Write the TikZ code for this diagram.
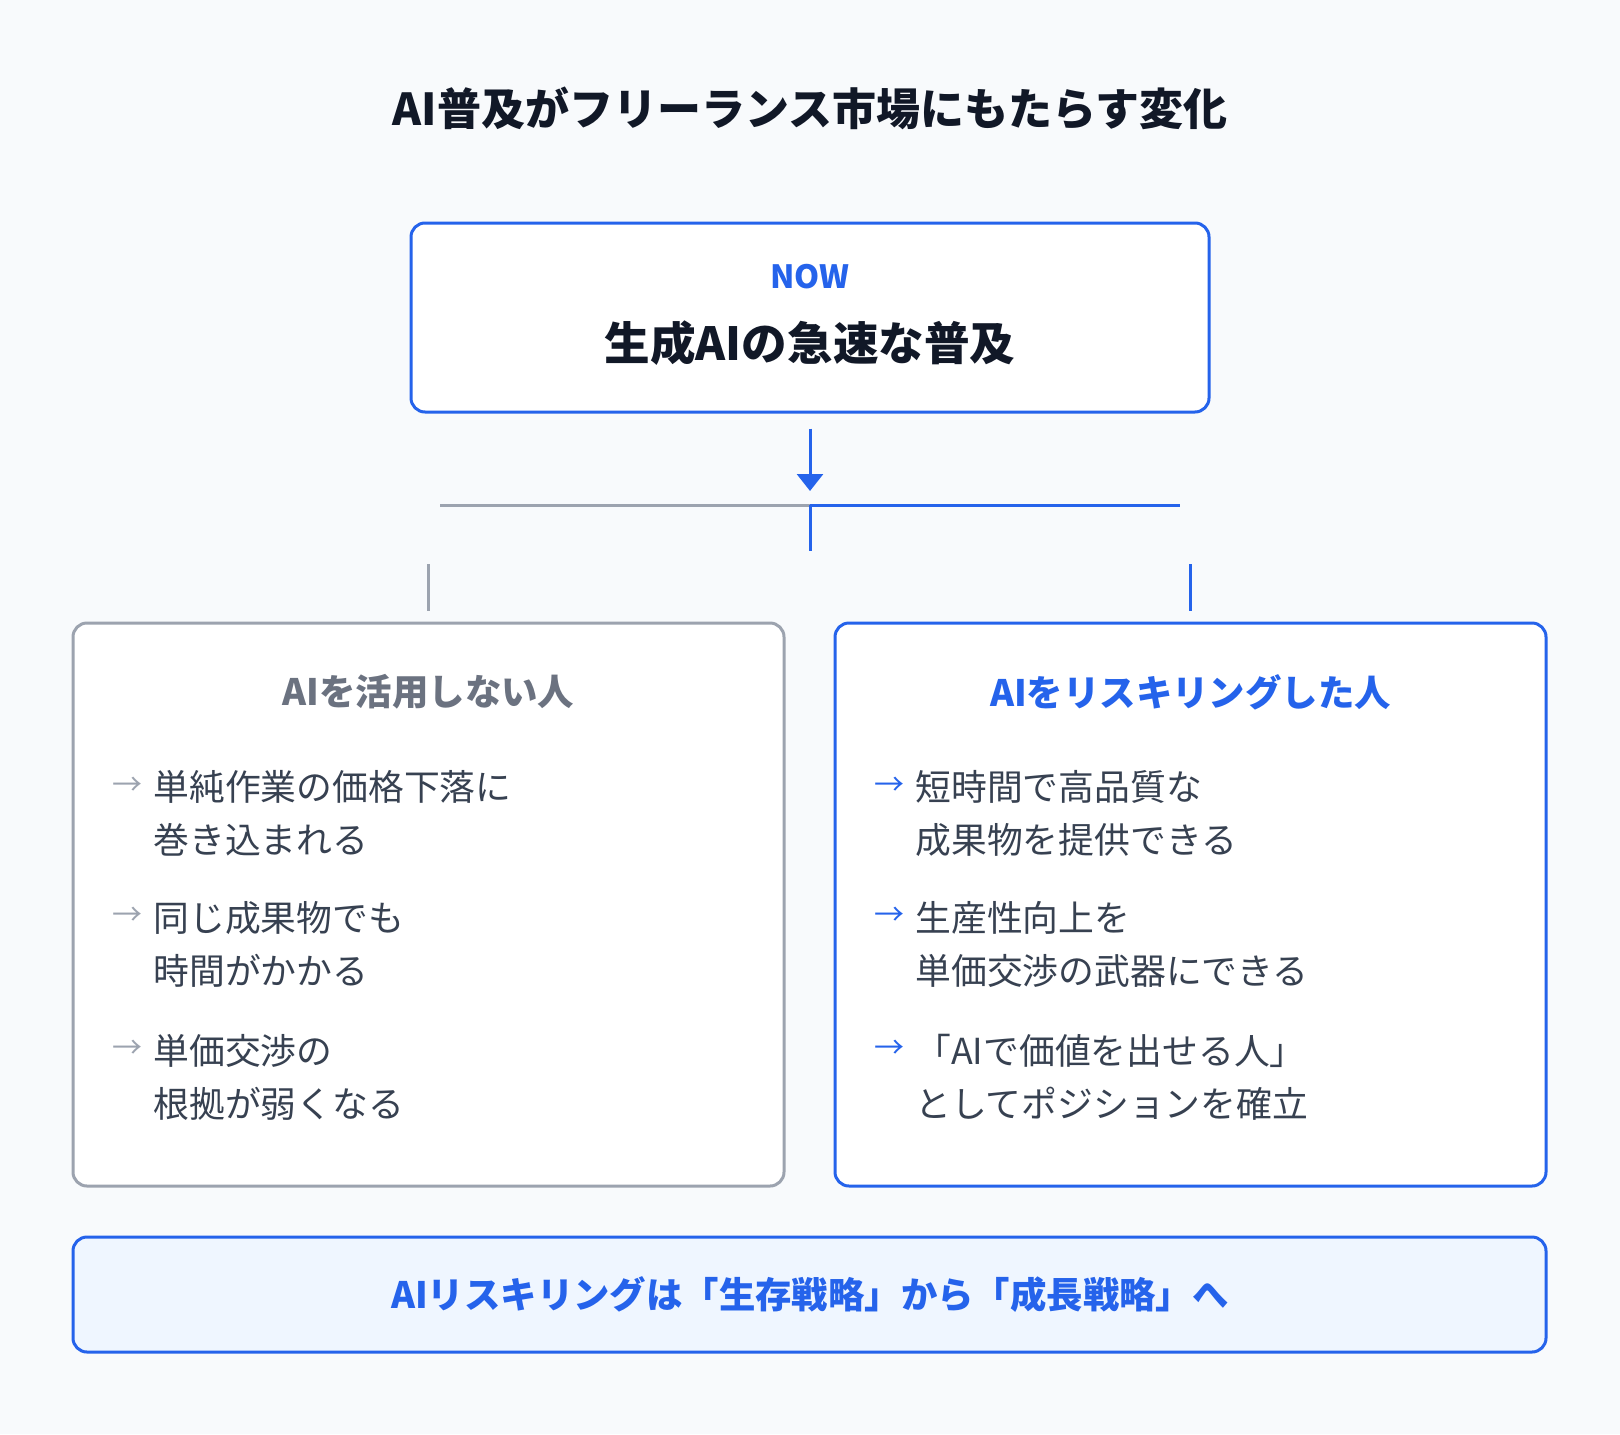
\documentclass[tikz,border=0pt]{standalone}
\usepackage{fontspec}
\setmainfont{Noto Sans CJK JP}
\usetikzlibrary{arrows.meta, positioning}
\definecolor{BrandBlue}{HTML}{2563EB}
\definecolor{MutedGray}{HTML}{9CA3AF}
\definecolor{HeadGray}{HTML}{6B7280}
\definecolor{BodyGray}{HTML}{374151}
\definecolor{InkDark}{HTML}{111827}
\definecolor{PageBg}{HTML}{F8FAFC}
\definecolor{TintBlue}{HTML}{EFF6FF}

\begin{document}
\begin{tikzpicture}[x=0.5pt, y=-0.5pt, >=Stealth,
    card/.style={draw, line width=1.5pt, rounded corners=7pt, fill=white, inner sep=0pt},
    headline/.style={font=\bfseries\fontsize{18.2}{22}\selectfont, inner sep=0pt},
    itemtext/.style={font=\fontsize{17.9}{26.5}\selectfont, text=BodyGray, align=left, anchor=west, inner sep=0pt},
    itemarrow/.style={font=\fontsize{15}{18}\selectfont, inner sep=0pt},
    link/.style={line width=1.5pt}]
  % Page background and bounds
  \fill[PageBg] (0,0) rectangle (1620,1434);
  \useasboundingbox (0,0) rectangle (1620,1434);

  % Title
  \node[font=\bfseries\fontsize{22}{26}\selectfont, text=InkDark] (title) at (810,108)
    {AI普及がフリーランス市場にもたらす変化};

  % Top box
  \node[card, draw=BrandBlue, minimum width=399pt, minimum height=94.5pt] (now) at (810,317.5) {};
  \node[font=\bfseries\fontsize{16}{19}\selectfont, text=BrandBlue, inner sep=0pt] (nowtag) at (810,277) {NOW};
  \node[font=\bfseries\fontsize{22.8}{27}\selectfont, text=InkDark, inner sep=0pt] (nowtext) at (810,343)
    {生成AIの急速な普及};

  % Branch
  \coordinate (split) at (810,505);
  \coordinate (splitL) at (440,505);
  \coordinate (splitR) at (1180,505);
  \coordinate (splitD) at (810,551);
  \draw[link, BrandBlue, -{Triangle[width=13pt, length=8.5pt]}, shorten <=7.5pt, shorten >=7pt]
    (now.south) -- (split);
  \draw[link, MutedGray] (splitL) -- (split);
  \draw[link, BrandBlue] (split) -- (splitR);
  \draw[link, BrandBlue] (split) -- (splitD);

  % Left and right boxes
  \node[card, draw=MutedGray, minimum width=355.5pt, minimum height=281.5pt] (left) at (428.5,904.5) {};
  \node[card, draw=BrandBlue, minimum width=355.5pt, minimum height=281.5pt] (right) at (1190.5,904.5) {};

  % Stubs above the boxes
  \coordinate (stubL) at (428.5,564);
  \coordinate (stubR) at (1190.5,564);
  \draw[link, MutedGray, shorten >=5.5pt] (stubL) -- (left.north);
  \draw[link, BrandBlue, shorten >=5.5pt] (stubR) -- (right.north);

  % Left column
  \node[headline, text=HeadGray] (lefthead) at (428.5,692) {AIを活用しない人};
  \node[itemtext] (l1) at (153,813.5) {単純作業の価格下落に\\巻き込まれる};
  \node[itemtext] (l2) at (153,944) {同じ成果物でも\\時間がかかる};
  \node[itemtext] (l3) at (153,1077) {単価交渉の\\根拠が弱くなる};
  \node[itemarrow, text=MutedGray] (la1) at (127,786) {→};
  \node[itemarrow, text=MutedGray] (la2) at (127,916) {→};
  \node[itemarrow, text=MutedGray] (la3) at (127,1049) {→};

  % Right column
  \node[headline, text=BrandBlue] (righthead) at (1190.5,692) {AIをリスキリングした人};
  \node[itemtext] (r1) at (915,813.5) {短時間で高品質な\\成果物を提供できる};
  \node[itemtext] (r2) at (915,944) {生産性向上を\\単価交渉の武器にできる};
  \node[itemtext] (r3) at (915,1077) {「AIで価値を出せる人」\\としてポジションを確立};
  \node[itemarrow, text=BrandBlue] (ra1) at (889,786) {→};
  \node[itemarrow, text=BrandBlue] (ra2) at (889,916) {→};
  \node[itemarrow, text=BrandBlue] (ra3) at (889,1049) {→};

  % Bottom banner
  \node[card, draw=BrandBlue, fill=TintBlue, minimum width=736.5pt, minimum height=57.5pt] (banner) at (809.5,1294.5) {};
  \node[headline, text=BrandBlue] (bannertext) at (810,1295)
    {AIリスキリングは「生存戦略」から「成長戦略」へ};
\end{tikzpicture}
\end{document}
